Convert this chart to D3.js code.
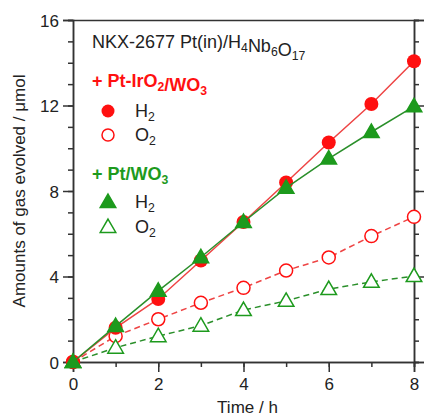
<!DOCTYPE html>
<html>
<head>
<meta charset="utf-8">
<script src="https://cdn.jsdelivr.net/npm/d3@7/dist/d3.min.js"></script>
<style>
  html, body { margin: 0; padding: 0; background: #fff; }
  svg { display: block; font-family: "Liberation Sans", Arial, Helvetica, sans-serif; }
</style>
</head>
<body>
<svg id="chart" width="425" height="418"></svg>
<script>
// Gas evolution over time for two cocatalyst systems
const hours = [0, 1, 2, 3, 4, 5, 6, 7, 8];
const irH2 = [0, 1.6, 2.95, 4.75, 6.55, 8.4, 10.27, 12.07, 14.07];
const irO2 = [0, 1.21, 2.0, 2.77, 3.47, 4.28, 4.89, 5.89, 6.79];
const ptH2 = [0, 1.68, 3.33, 4.9, 6.55, 8.15, 9.52, 10.76, 11.96];
const ptO2 = [0, 0.67, 1.21, 1.7, 2.43, 2.86, 3.41, 3.75, 4.02];
const xTicks = [0, 2, 4, 6, 8];
const yTicks = [0, 4, 8, 12, 16];

const RED = "#ff1010";
const RED_LINE = "#ee4444";
const GREEN = "#1d9a1d";
const GREEN_LINE = "#2a8f2a";
const AXIS = "#333";
const TEXT = "#222";

const svg = d3.select("#chart");
const m = { left: 73, right: 414, top: 20, bottom: 362 };

const x = d3.scaleLinear().domain([0, 8]).range([m.left, m.right]);
const y = d3.scaleLinear().domain([0, 16]).range([m.bottom, m.top]);

// Axes: major ticks with labels, minor ticks every unit
function styleAxis(g) {
  g.select(".domain").attr("stroke", AXIS).attr("stroke-width", 1.5);
  g.selectAll(".tick line").attr("stroke", AXIS).attr("stroke-width", 1.5);
  g.selectAll(".tick text").attr("fill", TEXT).style("font-size", "17px");
}

const yMinor = d3.range(0, 17);
const xMinor = d3.range(0, 9);

// left minor
svg.append("g").attr("transform", `translate(${m.left},0)`)
  .call(d3.axisLeft(y).tickValues(yMinor).tickSize(5).tickFormat(""))
  .call(styleAxis);
// left major
svg.append("g").attr("transform", `translate(${m.left},0)`)
  .call(d3.axisLeft(y).tickValues(yTicks).tickSize(10).tickPadding(4).tickFormat(d3.format("d")))
  .call(styleAxis)
  .call(g => g.selectAll(".tick text").attr("dy", "0.36em"));
// right minor + major
svg.append("g").attr("transform", `translate(${m.right},0)`)
  .call(d3.axisRight(y).tickValues(yMinor).tickSize(5).tickFormat(""))
  .call(styleAxis);
svg.append("g").attr("transform", `translate(${m.right},0)`)
  .call(d3.axisRight(y).tickValues(yTicks).tickSize(10).tickFormat(""))
  .call(styleAxis);
// bottom minor + major
svg.append("g").attr("transform", `translate(0,${m.bottom})`)
  .call(d3.axisBottom(x).tickValues(xMinor).tickSize(5).tickFormat(""))
  .call(styleAxis);
svg.append("g").attr("transform", `translate(0,${m.bottom})`)
  .call(d3.axisBottom(x).tickValues(xTicks).tickSize(10).tickPadding(6).tickFormat(d3.format("d")))
  .call(styleAxis);
// top frame line
svg.append("g").attr("transform", `translate(0,${m.top})`)
  .call(d3.axisTop(x).tickValues([]).tickSizeOuter(0))
  .call(styleAxis);

// Axis titles
svg.append("text")
  .attr("x", (m.left + m.right) / 2 + 4).attr("y", 413)
  .attr("text-anchor", "middle").attr("fill", TEXT).style("font-size", "17px")
  .text("Time / h");
svg.append("text")
  .attr("transform", `translate(25,${(m.top + m.bottom) / 2}) rotate(-90)`)
  .attr("text-anchor", "middle").attr("fill", TEXT).style("font-size", "17px")
  .text("Amounts of gas evolved / \u03bcmol");

// Series
const pts = v => hours.map((h, i) => [h, v[i]]);
const line = d3.line().x(d => x(d[0])).y(d => y(d[1]));
const tri = d3.symbol().type(d3.symbolTriangle).size(105);

function drawLine(vals, color, dashed) {
  svg.append("path").datum(pts(vals))
    .attr("d", line).attr("fill", "none")
    .attr("stroke", color).attr("stroke-width", 1.5)
    .attr("stroke-dasharray", dashed ? "6,4" : null);
}
function drawCircles(vals, color, filled) {
  svg.append("g").selectAll("circle").data(pts(vals)).join("circle")
    .attr("cx", d => x(d[0])).attr("cy", d => y(d[1])).attr("r", filled ? 7 : 6.5)
    .attr("fill", filled ? color : "#fff")
    .attr("stroke", color).attr("stroke-width", filled ? 0 : 1.5);
}
function drawTriangles(vals, color, filled) {
  svg.append("g").selectAll("path").data(pts(vals)).join("path")
    .attr("transform", d => `translate(${x(d[0])},${y(d[1]) + 1})`)
    .attr("d", tri)
    .attr("fill", filled ? color : "#fff")
    .attr("stroke", color).attr("stroke-width", 1.5);
}

drawLine(irO2, RED_LINE, true);
drawLine(ptO2, GREEN_LINE, true);
drawCircles(irO2, RED, false);
drawTriangles(ptO2, GREEN, false);
drawLine(irH2, RED_LINE, false);
drawCircles(irH2, RED, true);
drawLine(ptH2, GREEN_LINE, false);
drawTriangles(ptH2, GREEN, true);

// Legend
function subText(parent, xPos, yPos, parts, opts) {
  const t = parent.append("text").attr("x", xPos).attr("y", yPos)
    .attr("fill", opts.color).style("font-size", opts.size + "px")
    .style("font-weight", opts.bold ? "bold" : "normal");
  parts.forEach(p => {
    if (Array.isArray(p)) {
      t.append("tspan").attr("dy", 4).style("font-size", (opts.size * 0.68) + "px").text(p[0]);
      t.append("tspan").attr("dy", -4).text("");
    } else {
      t.append("tspan").text(p);
    }
  });
  return t;
}

const lg = svg.append("g");
subText(lg, 92, 48, ["NKX-2677 Pt(in)/H", ["4"], "Nb", ["6"], "O", ["17"]], { color: TEXT, size: 18 });
subText(lg, 92, 87, ["+ Pt-IrO", ["2"], "/WO", ["3"]], { color: RED, size: 18, bold: true });
subText(lg, 92, 180, ["+ Pt/WO", ["3"]], { color: GREEN, size: 18, bold: true });

const legendRows = [
  { yy: 111, kind: "circle", filled: true, color: RED },
  { yy: 135, kind: "circle", filled: false, color: RED },
  { yy: 202, kind: "tri", filled: true, color: GREEN },
  { yy: 227, kind: "tri", filled: false, color: GREEN }
];
const legendLabels = ["H", "O", "H", "O"];
legendRows.forEach((r, i) => {
  if (r.kind === "circle") {
    lg.append("circle").attr("cx", 108).attr("cy", r.yy).attr("r", r.filled ? 6.5 : 6)
      .attr("fill", r.filled ? r.color : "#fff").attr("stroke", r.color)
      .attr("stroke-width", r.filled ? 0 : 1.5);
  } else {
    lg.append("path").attr("transform", `translate(108,${r.yy + 1})`).attr("d", tri)
      .attr("fill", r.filled ? r.color : "#fff").attr("stroke", r.color).attr("stroke-width", 1.5);
  }
  subText(lg, 135, r.yy + 6, [legendLabels[i], ["2"]], { color: TEXT, size: 18 });
});
</script>
</body>
</html>
